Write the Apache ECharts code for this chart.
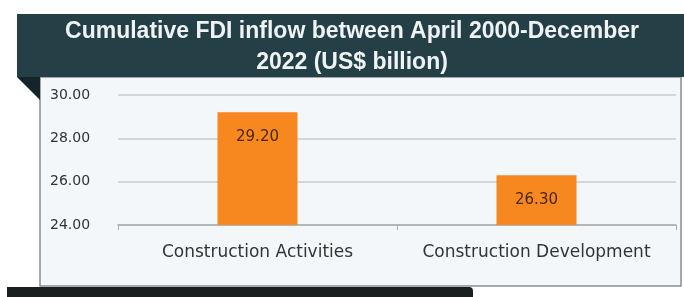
<!DOCTYPE html>
<html>
<head>
<meta charset="utf-8">
<script src="https://cdn.jsdelivr.net/npm/echarts@6/dist/echarts.min.js"></script>
<style>
html,body{margin:0;padding:0;background:#fff;}
#main{width:684px;height:297px;}
</style>
</head>
<body>
<div id="main"></div>
<script>
const categories = ['Construction Activities', 'Construction Development'];
const values = [29.20, 26.30];
const yTicks = [24, 26, 28, 30];

const chart = echarts.init(document.getElementById('main'));
const option = {
    animation:false,
    graphic:[
        // light panel behind plot
        {type:'rect', shape:{x:40,y:77,width:641,height:209}, style:{fill:'#f3f7f9',stroke:'#8a8f92',lineWidth:1.5}, z:-10},
        // dark title banner
        {type:'rect', shape:{x:17,y:14,width:667,height:63}, style:{fill:'#253f47'}, z:-5},
        // folded corner
        {type:'polygon', shape:{points:[[17,77],[40,77],[40,100]]}, style:{fill:'#13252b'}, z:-5},
        // bottom black bar
        {type:'rect', shape:{x:7,y:287,width:466,height:10,r:[0,4,0,0]}, style:{fill:'#1c1f20'}, z:-5},
        {type:'text', x:352, y:16, style:{
            text:'Cumulative FDI inflow between April 2000-December\n2022 (US$ billion)',
            fill:'#eef3f4', font:'bold 23px "Liberation Sans Narrow", "Liberation Sans", Arial, sans-serif',
            align:'center', lineHeight:31
        }, z:10}
    ],
    grid:{left:118, right:8, top:95, bottom:72},
    xAxis:{
        type:'category',
        data:categories,
        axisLine:{lineStyle:{color:'#a9adb0',width:1.5}},
        axisTick:{show:true,length:5,lineStyle:{color:'#a9adb0'}},
        axisLabel:{color:'#333',fontSize:17,margin:19,interval:0,hideOverlap:false,fontFamily:'DejaVu Sans, sans-serif'}
    },
    yAxis:{
        type:'value',
        min:yTicks[0],
        max:yTicks[yTicks.length-1],
        interval:2,
        axisLine:{show:false},
        axisTick:{show:false},
        splitLine:{lineStyle:{color:'#c9ccce',width:1.5}},
        axisLabel:{
            color:'#333',fontSize:14,margin:28,align:'left',padding:[0,0,0,-40],
            fontFamily:'DejaVu Sans, sans-serif',
            formatter:function(v){return v.toFixed(2);}
        }
    },
    series:[{
        type:'bar',
        data:values,
        barWidth:80,
        itemStyle:{color:'#f7871f'},
        label:{
            show:true,
            position:'insideTop',
            distance:17,
            color:'#4a2608',
            fontSize:15,
            fontFamily:'DejaVu Sans, sans-serif',
            formatter:function(p){return p.value.toFixed(2);}
        }
    }]
};
chart.setOption(option);
</script>
</body>
</html>
